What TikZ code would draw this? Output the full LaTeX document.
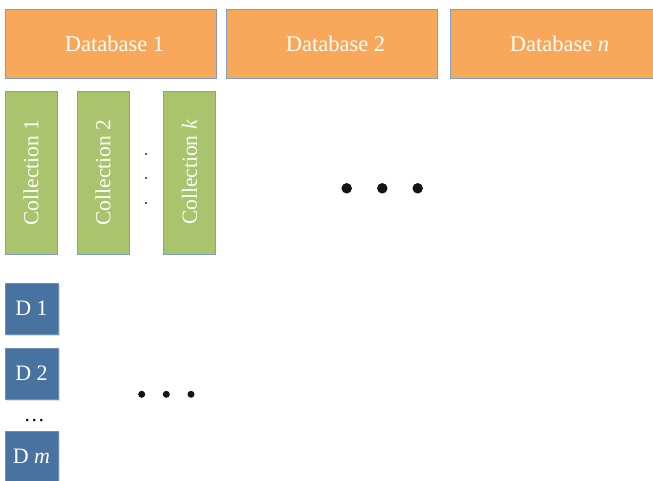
\documentclass[tikz,border=0pt]{standalone}
\usepackage{fontspec}
\setmainfont{Liberation Serif}
\usetikzlibrary{shadows}
\definecolor{dborange}{HTML}{F7A85B}
\definecolor{colgreen}{HTML}{A9C46C}
\definecolor{docblue}{HTML}{48729F}
\definecolor{edgeblue}{HTML}{7E9FC9}
\begin{document}
\begin{tikzpicture}[x=1pt,y=-1pt,
  dbbox/.style={draw=edgeblue,line width=0.8pt,fill=dborange,text=white,
    minimum width=211pt,minimum height=69pt,inner sep=0pt,font=\fontsize{22.5}{25}\selectfont},
  colbox/.style={draw=edgeblue,line width=0.8pt,fill=colgreen,text=white,rotate=90,
    minimum width=163pt,minimum height=52pt,inner sep=0pt,font=\fontsize{21.5}{24}\selectfont},
  docbox/.style={draw=docblue!80!white,line width=0.6pt,fill=docblue,text=white,
    minimum width=53pt,minimum height=51pt,inner sep=0pt,font=\fontsize{22}{24}\selectfont,
    drop shadow={opacity=0.25,shadow xshift=1.5pt,shadow yshift=-1.5pt}},
  bigdot/.style={circle,fill=black!92,inner sep=0pt,minimum size=10.5pt},
  middot/.style={circle,fill=black!92,inner sep=0pt,minimum size=7pt},
  tinydot/.style={circle,fill=black!85,inner sep=0pt,minimum size=2.2pt}]
\useasboundingbox (0,0) rectangle (653,481);
\clip (0,0) rectangle (653,481);
% databases
\node[dbbox] (db1) at (110.5,43.5) {\hspace*{8pt}Database 1};
\node[dbbox] (db2) at (331.5,43.5) {\hspace*{8pt}Database 2};
\node[dbbox] (dbn) at (555.5,43.5) {\hspace*{8pt}Database \textit{n}};
% collections
\node[colbox] (c1) at (31,172.5) {Collection 1};
\node[colbox] (c2) at (103,172.5) {Collection 2};
\node[colbox] (ck) at (189.5,172.5) {Collection \textit{k}};
\node[tinydot] (v1) at (146,154) {};
\node[tinydot] (v2) at (146,178) {};
\node[tinydot] (v3) at (146,203) {};
\node[bigdot] (b1) at (346.7,188.3) {};
\node[bigdot] (b2) at (382.3,188.3) {};
\node[bigdot] (b3) at (417.7,188.3) {};
% documents
\node[docbox] (d1) at (31.5,308.5) {D 1};
\node[docbox] (d2) at (31.5,373.5) {D 2};
\node[docbox] (dm) at (31.5,456.5) {D \textit{m}};
\node[font=\fontsize{21}{24}\selectfont,inner sep=0pt,anchor=base] (el) at (34.3,421.5) {…};
\node[middot] (m1) at (141.7,394.3) {};
\node[middot] (m2) at (166.3,394.3) {};
\node[middot] (m3) at (191,394.3) {};
\end{tikzpicture}
\end{document}
